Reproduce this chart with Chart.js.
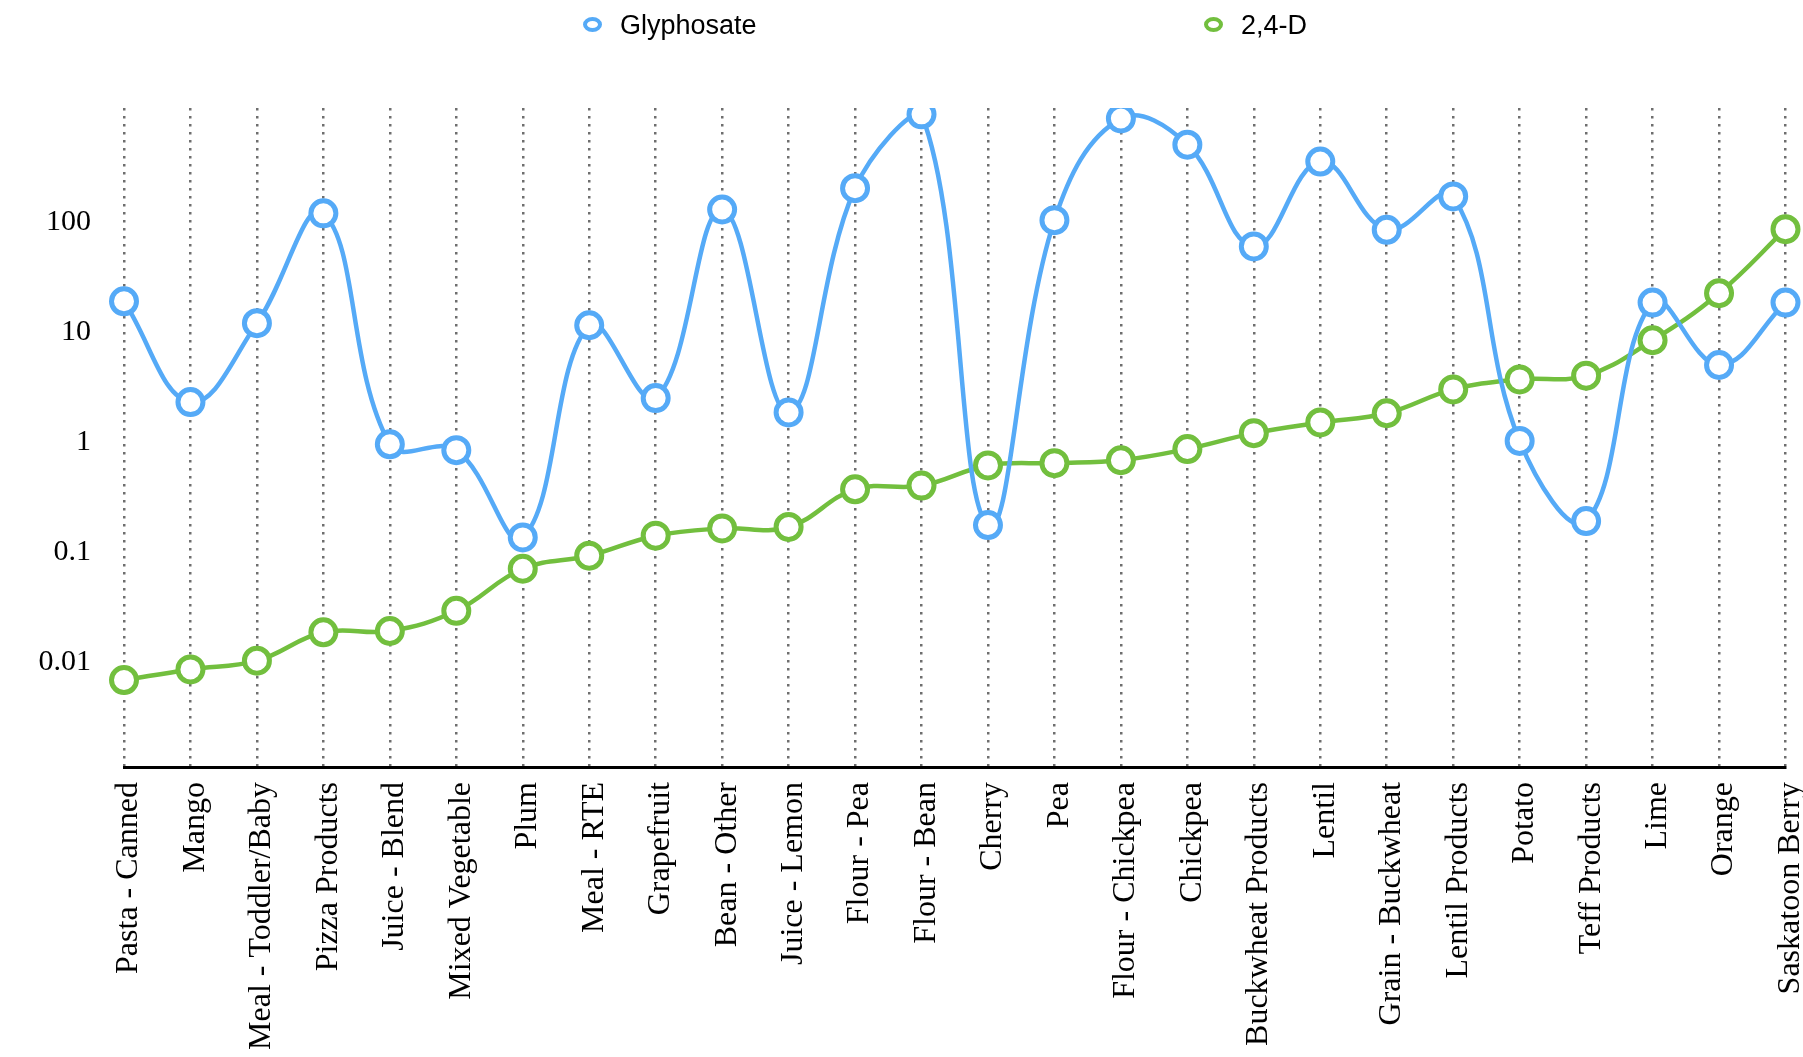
<!DOCTYPE html>
<html>
<head>
<meta charset="utf-8">
<script src="https://cdn.jsdelivr.net/npm/chart.js@4/dist/chart.umd.min.js"></script>
<style>
  html, body { margin: 0; padding: 0; background: #fff; }
  #wrap { position: relative; width: 1803px; height: 1057px; }
  #legend { position: absolute; left: 0; top: 0; width: 1803px; height: 50px; font-family: "Liberation Sans", Arial, sans-serif; font-size: 27px; color: #000; }
  .dot { position: absolute; top: 17px; width: 11px; height: 7px; border-radius: 50%; border: 4.5px solid; background: #fff; }
  .txt { position: absolute; top: 10px; height: 30px; line-height: 30px; white-space: nowrap; }
</style>
</head>
<body>
<div id="wrap">
  <canvas id="pesticide-line-chart" width="1803" height="1057"></canvas>
  <div id="legend"></div>
</div>
<script>
// Categorias (eje x)
var categories = ['Pasta - Canned', 'Mango', 'Meal - Toddler/Baby', 'Pizza Products', 'Juice - Blend',
  'Mixed Vegetable', 'Plum', 'Meal - RTE', 'Grapefruit', 'Bean - Other', 'Juice - Lemon', 'Flour - Pea',
  'Flour - Bean', 'Cherry', 'Pea', 'Flour - Chickpea', 'Chickpea', 'Buckwheat Products', 'Lentil',
  'Grain - Buckwheat', 'Lentil Products', 'Potato', 'Teff Products', 'Lime', 'Orange', 'Saskatoon Berry'];

// Series
var glyphosate = [19, 2.3, 12, 120, 0.95, 0.84, 0.135, 11.5, 2.5, 130, 1.85, 203,
  955, 0.175, 104, 875, 505, 60, 355, 85, 171, 1.02, 0.19, 18.5, 5.0, 18.5];
var twoFourD = [0.0068, 0.0085, 0.0102, 0.0185, 0.019, 0.029, 0.07, 0.092, 0.14, 0.163, 0.168, 0.37,
  0.40, 0.61, 0.64, 0.68, 0.86, 1.2, 1.5, 1.82, 3.0, 3.7, 4.0, 8.4, 22.5, 86];

var seriesNames = ['Glyphosate', '2,4-D'];
var seriesColors = ['#55aaf7', '#72bf3e'];

// Etiquetas del eje y
var yTickValues = [0.01, 0.1, 1, 10, 100];
var yMin = 0.0011;
var yMax = 1090;

var serif = '"Liberation Serif", "Times New Roman", serif';

function makeDataset(label, data, color) {
  return {
    label: label,
    data: data,
    borderColor: color,
    backgroundColor: '#fff',
    borderWidth: 4.5,
    tension: 0.4,
    pointRadius: 12.5,
    pointHoverRadius: 12.5,
    pointBorderWidth: 5,
    pointBackgroundColor: '#fff',
    pointBorderColor: color
  };
}

new Chart(document.getElementById('pesticide-line-chart'), {
  type: 'line',
  data: {
    labels: categories,
    datasets: [
      makeDataset(seriesNames[0], glyphosate, seriesColors[0]),
      makeDataset(seriesNames[1], twoFourD, seriesColors[1])
    ]
  },
  options: {
    responsive: false,
    animation: false,
    layout: { padding: { top: 108, right: 14, bottom: 0, left: 0 } },
    plugins: {
      legend: { display: false },
      tooltip: { enabled: false }
    },
    scales: {
      x: {
        offset: false,
        grid: {
          display: true,
          drawTicks: false,
          color: '#6e6e6e',
          lineWidth: 2.5
        },
        // en v4 border.dash se aplica a las lineas de la grilla
        border: { display: true, color: '#000', width: 3, dash: [2.5, 5.5] },
        ticks: {
          autoSkip: false,
          minRotation: 90,
          maxRotation: 90,
          padding: 15,
          labelOffset: 5,
          color: '#000',
          font: { family: serif, size: 32 }
        },
        afterFit: function (scale) {
          scale.height = 290;
          scale.paddingLeft = 0;
          scale.paddingRight = 14;
        }
      },
      y: {
        type: 'logarithmic',
        min: yMin,
        max: yMax,
        grid: { display: false, drawTicks: false },
        border: { display: false },
        ticks: {
          autoSkip: false,
          padding: 33,
          color: '#000',
          font: { family: serif, size: 30 },
          callback: function (value) {
            for (var i = 0; i < yTickValues.length; i++) {
              if (Math.abs(Math.log10(value) - Math.log10(yTickValues[i])) < 1e-6) {
                return String(yTickValues[i]);
              }
            }
            return '';
          }
        },
        afterFit: function (scale) {
          scale.width = 124;
          scale.paddingTop = 0;
          scale.paddingBottom = 0;
        }
      }
    }
  }
});

// Leyenda en HTML
var legendDotX = [583, 1204];
var legendTextX = [620, 1241];
var legend = document.getElementById('legend');
for (var i = 0; i < seriesNames.length; i++) {
  var dot = document.createElement('div');
  dot.className = 'dot';
  dot.style.left = legendDotX[i] + 'px';
  dot.style.borderColor = seriesColors[i];
  legend.appendChild(dot);

  var txt = document.createElement('div');
  txt.className = 'txt';
  txt.style.left = legendTextX[i] + 'px';
  txt.textContent = seriesNames[i];
  legend.appendChild(txt);
}
</script>
</body>
</html>
